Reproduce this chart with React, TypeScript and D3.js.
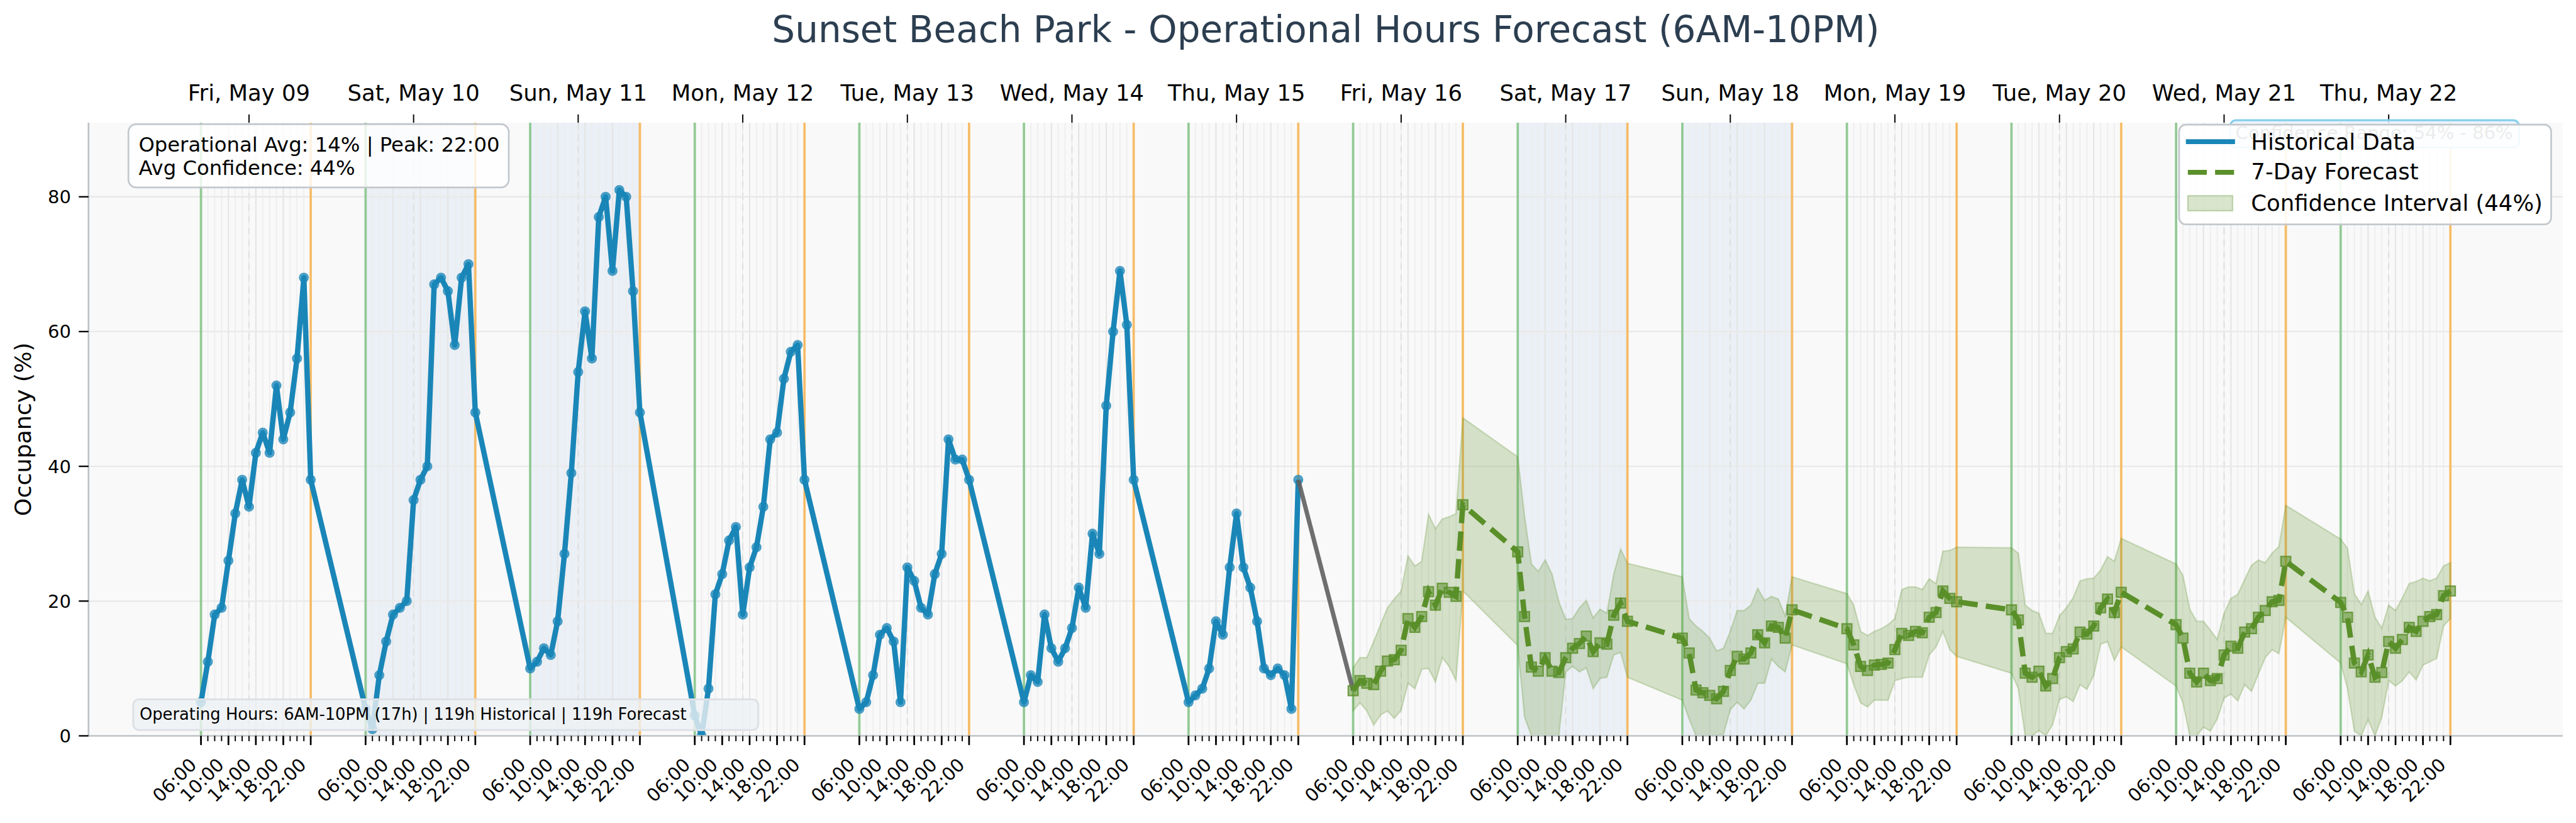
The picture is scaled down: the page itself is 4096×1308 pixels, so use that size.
import React from "react";
import * as d3 from "d3";

// reference coordinate space (scaled to the window through the viewBox)
const W = 5296;
const H = 1691;
const PL = 182, PR = 5269, PT = 252, PB = 1512;

const FONT = "DejaVu Sans";
const HIST_COLOR = "#1a86b8";
const FC_COLOR = "#5a8f29";

// operating hours, 06:00 .. 22:00
const openHours = d3.range(6, 23);
const majorHours = [6, 10, 14, 18, 22];
const dayLabelHour = 13;

// historical occupancy (%), May 09 - May 15, one row per day
const historicalValues = [
  [5, 11, 18, 19, 26, 33, 38, 34, 42, 45, 42, 52, 44, 48, 56, 68, 38],
  [4, 1, 9, 14, 18, 19, 20, 35, 38, 40, 67, 68, 66, 58, 68, 70, 48],
  [10, 11, 13, 12, 17, 27, 39, 54, 63, 56, 77, 80, 69, 81, 80, 66, 48],
  [3, 0, 7, 21, 24, 29, 31, 18, 25, 28, 34, 44, 45, 53, 57, 58, 38],
  [4, 5, 9, 15, 16, 14, 5, 25, 23, 19, 18, 24, 27, 44, 41, 41, 38],
  [5, 9, 8, 18, 13, 11, 13, 16, 22, 19, 30, 27, 49, 60, 69, 61, 38],
  [5, 6, 7, 10, 17, 15, 25, 33, 25, 22, 17, 10, 9, 10, 9, 4, 38],
];

// 7-day forecast, May 16 - May 22
const forecastValues = [
  [6.7, 8.2, 7.8, 7.6, 9.6, 11.1, 11.3, 12.7, 17.4, 16.1, 17.7, 21.4, 19.4, 21.9, 21.3, 20.7, 34.3],
  [27.3, 17.7, 10.2, 9.6, 11.6, 9.6, 9.4, 11.6, 13.0, 13.7, 14.8, 12.5, 13.8, 13.6, 17.9, 19.7, 17.0],
  [14.5, 12.3, 6.8, 6.4, 6.0, 5.5, 6.6, 9.7, 11.8, 11.4, 12.3, 15.0, 13.8, 16.3, 16.1, 14.5, 18.7],
  [15.9, 13.5, 10.3, 9.7, 10.5, 10.6, 10.8, 12.8, 15.2, 14.9, 15.5, 15.3, 17.6, 18.3, 21.5, 20.4, 19.9],
  [18.7, 17.2, 9.3, 8.7, 9.6, 7.4, 8.5, 11.6, 12.5, 12.9, 15.4, 15.1, 16.3, 19.0, 20.3, 18.3, 21.3],
  [16.5, 14.5, 9.3, 8.0, 9.3, 8.2, 8.5, 12.0, 13.3, 13.0, 15.4, 15.9, 17.6, 18.6, 19.9, 20.1, 25.9],
  [19.8, 17.6, 10.8, 9.5, 12.0, 8.7, 9.4, 14.0, 13.0, 14.3, 16.1, 15.5, 17.0, 17.7, 18.0, 20.8, 21.5],
];

const forecastUpper = [
  [10.1, 11.6, 11.6, 14.0, 16.5, 19.0, 20.3, 21.5, 26.7, 25.2, 25.9, 32.9, 30.7, 32.2, 32.5, 33.0, 47.2],
  [41.4, 32.6, 25.5, 24.4, 26.1, 24.0, 19.9, 17.3, 17.4, 19.0, 20.1, 17.5, 18.8, 18.2, 24.0, 27.7, 25.6],
  [23.6, 17.4, 16.3, 15.5, 14.5, 12.6, 13.0, 15.5, 18.6, 18.6, 19.4, 21.9, 20.1, 20.7, 20.3, 17.8, 23.6],
  [21.1, 19.4, 15.5, 14.9, 15.5, 15.9, 16.5, 17.4, 21.7, 22.1, 22.1, 21.7, 23.3, 22.6, 27.4, 27.5, 28.0],
  [27.9, 27.1, 19.4, 18.6, 18.2, 15.2, 15.2, 17.8, 19.0, 20.5, 23.0, 23.3, 23.4, 24.6, 26.6, 25.9, 29.3],
  [25.5, 23.8, 18.8, 17.0, 17.0, 15.7, 14.3, 18.2, 20.4, 21.0, 23.2, 25.3, 26.1, 25.7, 27.1, 28.1, 34.2],
  [29.2, 27.8, 21.1, 19.5, 21.5, 17.6, 16.0, 19.4, 18.6, 20.5, 22.6, 22.9, 23.4, 23.0, 23.4, 25.2, 25.7],
];

const forecastLower = [
  [3.7, 4.9, 3.7, 1.6, 3.1, 3.7, 2.6, 3.8, 7.8, 7.0, 9.9, 10.0, 8.0, 11.6, 10.3, 8.2, 21.5],
  [13.4, 2.8, 0, 0, 0, 0, 0, 9.5, 10.3, 9.5, 10.1, 7.0, 8.5, 8.7, 12.0, 12.4, 8.7],
  [5.3, 2.5, 0, 0, 0, 0, 0.2, 3.9, 5.0, 4.0, 5.3, 7.8, 7.8, 11.4, 10.3, 9.5, 13.5],
  [10.7, 7.6, 4.9, 4.3, 5.3, 5.3, 5.3, 8.2, 8.5, 8.7, 8.7, 8.7, 12.0, 13.2, 15.5, 12.8, 11.8],
  [9.3, 7.0, 0, 0, 0.8, 0, 1.7, 5.4, 5.8, 5.1, 7.6, 6.9, 9.0, 13.6, 14.0, 11.2, 13.2],
  [7.4, 4.9, 0, 0, 1.3, 0.7, 2.5, 5.6, 6.2, 5.2, 7.6, 6.6, 9.2, 11.6, 12.8, 12.2, 17.6],
  [10.8, 7.0, 0.7, 0, 2.4, 0, 2.8, 8.2, 7.4, 8.2, 9.5, 8.3, 10.5, 11.0, 11.5, 16.3, 17.4],
];

const yTicks = [0, 20, 40, 60, 80];
const dayCount = 14;

const at = (day: number, hour: number) => new Date(2025, 4, 9 + day, hour);

export default function App() {
  const first = at(0, 6);
  const last = at(dayCount - 1, 22);
  const pad = (last.getTime() - first.getTime()) * 0.05;
  const x = d3
    .scaleTime()
    .domain([new Date(first.getTime() - pad), new Date(last.getTime() + pad)])
    .range([PL, PR]);
  const y = d3.scaleLinear().domain([0, 91]).range([PB, PT]);

  const hist = historicalValues.flatMap((row, d) =>
    row.map((v, i) => ({ t: at(d, openHours[i]), v }))
  );
  const fc = forecastValues.flatMap((row, d) =>
    row.map((v, i) => ({
      t: at(d + 7, openHours[i]),
      v,
      lo: forecastLower[d][i],
      hi: forecastUpper[d][i],
    }))
  );

  const line = d3
    .line<{ t: Date; v: number }>()
    .x((d) => x(d.t))
    .y((d) => y(d.v));
  const area = d3
    .area<{ t: Date; lo: number; hi: number }>()
    .x((d) => x(d.t))
    .y0((d) => y(d.lo))
    .y1((d) => y(d.hi));

  const days = d3.range(dayCount);
  const weekend = days.filter((d) => [0, 6].includes(at(d, 6).getDay()));
  const hourTicks = days.flatMap((d) => openHours.map((h) => at(d, h)));
  const majorTicks = days.flatMap((d) => majorHours.map((h) => at(d, h)));
  const fmtHour = d3.timeFormat("%H:%M");
  const fmtDay = d3.timeFormat("%a, %b %d");

  const lastHist = hist[hist.length - 1];
  const firstFc = fc[0];

  return (
    <svg
      width={4096}
      height={1308}
      viewBox={`0 0 ${W} ${H}`}
      style={{ position: "absolute", left: 0, top: 0, background: "#fff" }}
      fontFamily={FONT}
    >
      <defs>
        <clipPath id="plot">
          <rect x={PL} y={PT} width={PR - PL} height={PB - PT} />
        </clipPath>
      </defs>
      <rect x={0} y={0} width={W} height={H} fill="#fff" />

      {/* title */}
      <text x={(PL + PR) / 2} y={86} fontSize={75} fill="#2c3e50" textAnchor="middle">
        Sunset Beach Park - Operational Hours Forecast (6AM-10PM)
      </text>

      <rect x={PL} y={PT} width={PR - PL} height={PB - PT} fill="#f9f9f9" />

      <g clipPath="url(#plot)">
        {/* weekend shading */}
        {weekend.map((d) => (
          <rect
            key={d}
            x={x(at(d, 6))}
            y={PT}
            width={x(at(d, 22)) - x(at(d, 6))}
            height={PB - PT}
            fill="#4a90d9"
            opacity={0.08}
          />
        ))}
        {/* grid */}
        {hourTicks.map((t, i) => (
          <line key={i} x1={x(t)} x2={x(t)} y1={PT} y2={PB} stroke="#ececec" strokeWidth={2} />
        ))}
        {majorTicks.map((t, i) => (
          <line key={i} x1={x(t)} x2={x(t)} y1={PT} y2={PB} stroke="#e4e4e4" strokeWidth={2.5} />
        ))}
        {days.map((d) => (
          <line
            key={d}
            x1={x(at(d, dayLabelHour))}
            x2={x(at(d, dayLabelHour))}
            y1={PT}
            y2={PB}
            stroke="#dedede"
            strokeWidth={2.5}
            strokeDasharray="14,10"
          />
        ))}
        {yTicks.slice(1).map((v) => (
          <line key={v} x1={PL} x2={PR} y1={y(v)} y2={y(v)} stroke="#e9e9e9" strokeWidth={3} />
        ))}
        {/* opening / closing lines */}
        {days.map((d) => (
          <g key={d}>
            <line x1={x(at(d, 6))} x2={x(at(d, 6))} y1={PT} y2={PB} stroke="#4caf50" strokeOpacity={0.55} strokeWidth={5} />
            <line x1={x(at(d, 22))} x2={x(at(d, 22))} y1={PT} y2={PB} stroke="#ff9800" strokeOpacity={0.55} strokeWidth={5} />
          </g>
        ))}

        {/* confidence band */}
        <path d={area(fc) || ""} fill={FC_COLOR} fillOpacity={0.23} stroke={FC_COLOR} strokeOpacity={0.25} strokeWidth={3} />

        {/* historical */}
        <path d={line(hist) || ""} fill="none" stroke={HIST_COLOR} strokeWidth={11} strokeLinejoin="round" />
        {hist.map((p, i) => (
          <circle key={i} cx={x(p.t)} cy={y(p.v)} r={9.5} fill={HIST_COLOR} fillOpacity={0.75} stroke={HIST_COLOR} strokeOpacity={0.6} strokeWidth={2} />
        ))}

        {/* bridge */}
        <path d={line([lastHist, firstFc]) || ""} stroke="#5f5f5f" strokeOpacity={0.9} strokeWidth={9} fill="none" />

        {/* forecast */}
        <path d={line(fc) || ""} fill="none" stroke={FC_COLOR} strokeWidth={11} strokeDasharray="40,17" />
        {fc.map((p, i) => (
          <rect key={i} x={x(p.t) - 10} y={y(p.v) - 10} width={20} height={20} fill={FC_COLOR} fillOpacity={0.55} stroke={FC_COLOR} strokeOpacity={0.8} strokeWidth={3} />
        ))}
      </g>

      {/* spines */}
      <line x1={PL} x2={PL} y1={PT} y2={PB} stroke="#bdc3c7" strokeWidth={3.5} />
      <line x1={PL} x2={PR} y1={PB} y2={PB} stroke="#bdc3c7" strokeWidth={3.5} />

      {/* y axis */}
      {yTicks.map((v) => (
        <g key={v}>
          <line x1={PL - 20} x2={PL} y1={y(v)} y2={y(v)} stroke="#000" strokeWidth={3} />
          <text x={PL - 36} y={y(v) + 13.5} fontSize={37.5} textAnchor="end">
            {v}
          </text>
        </g>
      ))}
      <text transform={`translate(64, ${(PT + PB) / 2}) rotate(-90)`} fontSize={47} textAnchor="middle">
        Occupancy (%)
      </text>

      {/* bottom axis */}
      {hourTicks.map((t, i) => (
        <line key={i} x1={x(t)} x2={x(t)} y1={PB} y2={PB + 11} stroke="#000" strokeWidth={2.5} />
      ))}
      {majorTicks.map((t, i) => (
        <g key={i}>
          <line x1={x(t)} x2={x(t)} y1={PB} y2={PB + 19} stroke="#000" strokeWidth={3.5} />
          <text transform={`translate(${x(t) - 7}, ${PB + 62}) rotate(-45)`} fontSize={37.5} textAnchor="end">
            {fmtHour(t)}
          </text>
        </g>
      ))}

      {/* top axis */}
      {days.map((d) => (
        <g key={d}>
          <line x1={x(at(d, dayLabelHour))} x2={x(at(d, dayLabelHour))} y1={PT - 17} y2={PT} stroke="#000" strokeWidth={2.5} />
          <text x={x(at(d, dayLabelHour))} y={207} fontSize={45.8} textAnchor="middle">
            {fmtDay(at(d, 6))}
          </text>
        </g>
      ))}

      {/* stats box */}
      <rect x={264} y={255} width={782} height={130} rx={16} fill="#fff" fillOpacity={0.8} stroke="#c3c8cd" strokeWidth={3.5} />
      <text x={285} y={311} fontSize={41.7}>Operational Avg: 14% | Peak: 22:00</text>
      <text x={285} y={359} fontSize={41.7}>Avg Confidence: 44%</text>

      {/* footer box */}
      <rect x={274} y={1437} width={1285} height={63} rx={12} fill="#eef1f4" fillOpacity={0.8} stroke="#dde1e5" strokeWidth={4} />
      <text x={287} y={1479} fontSize={33.3}>
        Operating Hours: 6AM-10PM (17h) | 119h Historical | 119h Forecast
      </text>

      {/* confidence range box (behind legend) */}
      <rect x={4585} y={247} width={594} height={56} rx={12} fill="#e6f3fa" fillOpacity={0.8} stroke="#87ceeb" strokeWidth={4} />
      <text x={4596} y={286} fontSize={37.5} fill="#333">
        Confidence Range: 54% - 86%
      </text>

      {/* legend */}
      <rect x={4480} y={256} width={765} height={205} rx={14} fill="#fff" fillOpacity={0.9} stroke="#c3c8cd" strokeWidth={3.5} />
      <line x1={4494} x2={4595} y1={291} y2={291} stroke={HIST_COLOR} strokeWidth={10} />
      <text x={4628} y={307} fontSize={45.8}>Historical Data</text>
      <line x1={4498} x2={4595} y1={354} y2={354} stroke={FC_COLOR} strokeWidth={10} strokeDasharray="39,17" />
      <text x={4628} y={369} fontSize={45.8}>7-Day Forecast</text>
      <rect x={4498} y={402} width={92} height={31} fill={FC_COLOR} fillOpacity={0.23} stroke={FC_COLOR} strokeOpacity={0.3} strokeWidth={3} />
      <text x={4628} y={433} fontSize={45.8}>Confidence Interval (44%)</text>
    </svg>
  );
}
